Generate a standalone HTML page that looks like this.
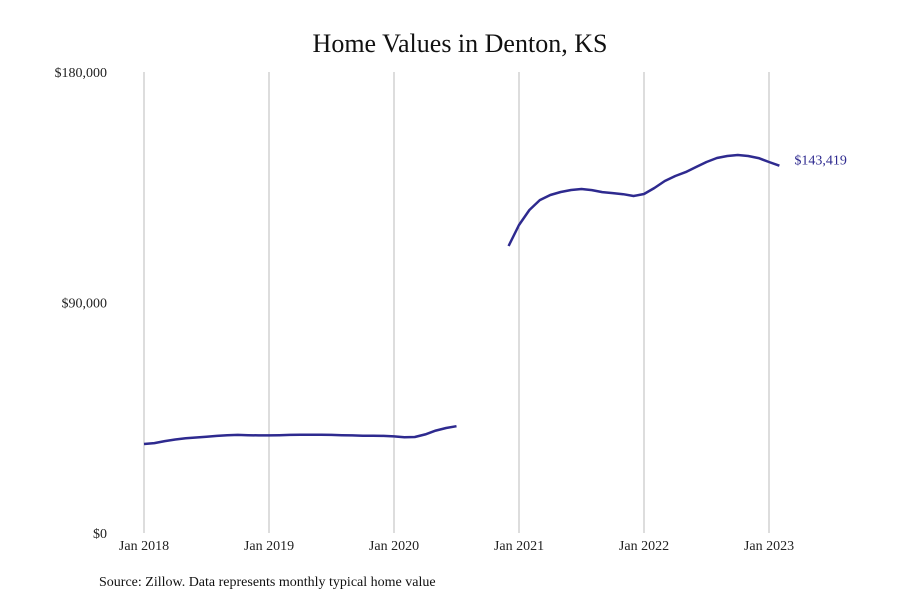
<!DOCTYPE html>
<html><head><meta charset="utf-8"><style>
body{margin:0;background:#fff;}
svg text{font-family:"Liberation Serif",serif;}
</style></head><body>
<svg id="chart" width="900" height="600" xmlns="http://www.w3.org/2000/svg">
<rect width="900" height="600" fill="#fff"/>
<text x="460" y="52" text-anchor="middle" font-size="26" fill="#111">Home Values in Denton, KS</text>
<g id="grid"></g><g id="axes"></g><g id="series"></g>
<text x="99" y="586" font-size="14" fill="#111">Source: Zillow. Data represents monthly typical home value</text>
</svg>
<script>
const xTickLabels=["Jan 2018","Jan 2019","Jan 2020","Jan 2021","Jan 2022","Jan 2023"];
const yTickValues=[0,90000,180000];
const yTickLabels=["$0","$90,000","$180,000"];
// month index from Jan 2018
const seg1Start=0;
const seg1Values=[34750,35100,35900,36500,37000,37300,37600,37900,38200,38300,38200,38100,38100,38200,38300,38400,38400,38400,38300,38200,38100,38000,38000,37900,37700,37400,37500,38500,40000,41000,41700];
const seg2Start=35;
const seg2Values=[112060,120260,126100,130000,131970,133140,133920,134300,133900,133100,132700,132300,131580,132360,134700,137440,139400,140900,142900,144860,146420,147200,147590,147200,146400,144860,143419];
const lastLabel="$143,419";
const NS="http://www.w3.org/2000/svg";
const X0=144,PX_PER_MONTH=125/12,Y0=533,YH=461,YMAX=180000;
const xs=m=>X0+m*PX_PER_MONTH;
const ys=v=>Y0-v/YMAX*YH;
function mk(t,a,p){const e=document.createElementNS(NS,t);for(const k in a)e.setAttribute(k,a[k]);p.appendChild(e);return e;}
const grid=document.getElementById('grid'),axes=document.getElementById('axes'),ser=document.getElementById('series');
xTickLabels.forEach((l,i)=>{
 const x=xs(i*12);
 const g=mk('line',{x1:x,x2:x,y1:72,y2:Y0,stroke:'#bbb','stroke-width':1},grid);
 
 
 const t=mk('text',{x:x,y:550,'text-anchor':'middle','font-size':14,fill:'#222'},axes);
 t.textContent=l;
 
 
});
yTickValues.forEach((v,i)=>{
 const t=mk('text',{x:107,y:ys(v)+5,'text-anchor':'end','font-size':14,fill:'#222'},axes);
 t.textContent=yTickLabels[i];
 
 
});
function line(start,vals,name){
 const d=vals.map((v,i)=>(i?'L':'M')+xs(start+i).toFixed(1)+','+ys(v).toFixed(1)).join(' ');
 const p=mk('path',{d:d,fill:'none',stroke:'#2e2a8f','stroke-width':2.5,'stroke-linejoin':'round'},ser);
 
 
}
line(seg1Start,seg1Values,'home-value-line-2018-2020');
line(seg2Start,seg2Values,'home-value-line-2020-2023');
const li=seg2Values.length-1;
const lt=mk('text',{x:xs(seg2Start+li)+15,y:ys(seg2Values[li])-1,'font-size':14,fill:'#2e2a8f'},ser);
lt.textContent=lastLabel;


</script>
</body></html>
